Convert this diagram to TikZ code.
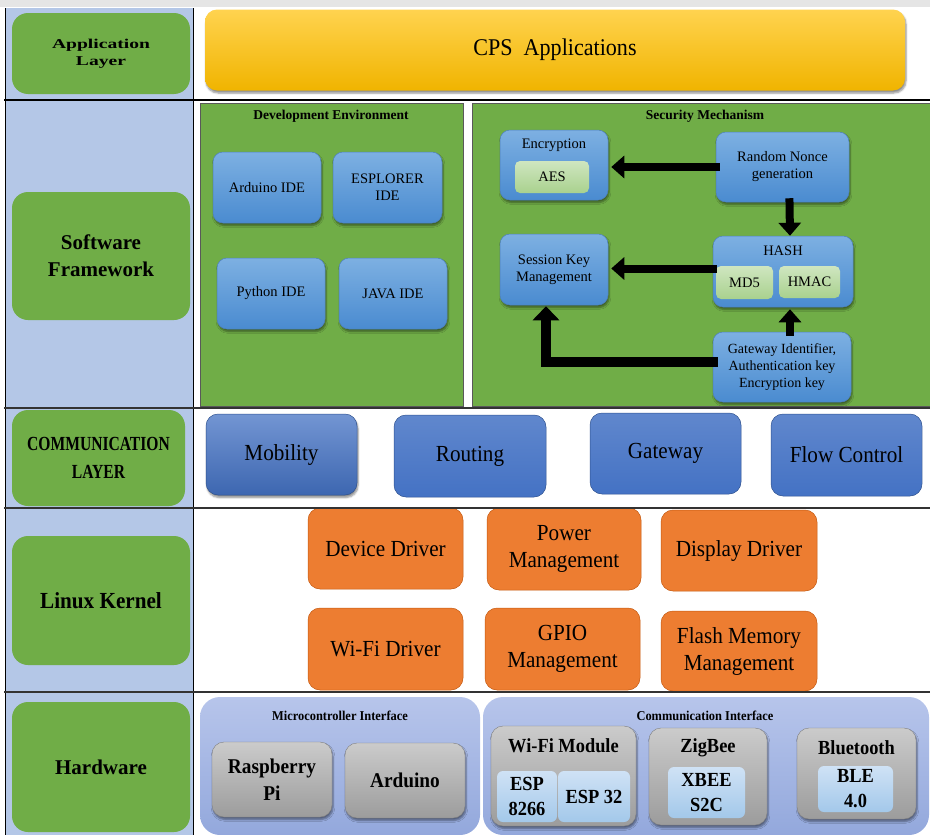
\documentclass[tikz,border=0pt]{standalone}
\usepackage{fontspec}
\setmainfont{Liberation Serif}
\newfontfamily\condfont[FakeStretch=0.92]{Liberation Serif}
\newfontfamily\narrowfont[FakeStretch=0.78]{Liberation Serif}
\newfontfamily\widefont[FakeStretch=1.45]{Liberation Serif}
\usetikzlibrary{arrows.meta, shadows.blur, positioning, calc}

\definecolor{colblue}{HTML}{B4C7E7}
\definecolor{lblgreen}{HTML}{70AD47}
\definecolor{panelgreen}{HTML}{70AD47}
\definecolor{idetop}{HTML}{7DB0E2}
\definecolor{idebot}{HTML}{4A8BD0}
\definecolor{ideedge}{HTML}{4F81BD}
\definecolor{chiptop}{HTML}{CFE6C0}
\definecolor{chipbot}{HTML}{A9D18E}
\definecolor{commblue}{HTML}{4472C4}
\definecolor{commedge}{HTML}{2F528F}
\definecolor{kerorange}{HTML}{ED7D31}
\definecolor{keredge}{HTML}{C55A11}
\definecolor{hwtop}{HTML}{B7C5EB}
\definecolor{hwbot}{HTML}{93A8DC}
\definecolor{greytop}{HTML}{CBCBCB}
\definecolor{greybot}{HTML}{9C9C9C}
\definecolor{bchiptop}{HTML}{CFE2F5}
\definecolor{bchipbot}{HTML}{A3C8EA}
\definecolor{cpstop}{HTML}{FFD34F}
\definecolor{cpsbot}{HTML}{F0B400}

\newcommand\fsz[2]{\fontsize{#1}{#2}\selectfont}

\tikzset{
  layer/.style={fill=lblgreen, rounded corners=16pt, inner sep=0pt, align=center},
  panel/.style={fill=panelgreen, draw=gray!70!black, line width=0.6pt, inner sep=0pt},
  paneltitle/.style={inner sep=0pt, font=\bfseries\fsz{13.5}{16}},
  softshadow/.style={blur shadow={shadow xshift=1pt, shadow yshift=-2.5pt, shadow blur steps=5, shadow opacity=45}},
  idebox/.style={rounded corners=10pt, top color=idetop, bottom color=idebot, draw=ideedge,
    line width=0.5pt, inner sep=1pt, align=center, softshadow, font=\fsz{14.5}{17}},
  chip/.style={rounded corners=5pt, top color=chiptop, bottom color=chipbot, inner sep=0pt, font=\fsz{14.5}{17}},
  commbox/.style={rounded corners=12pt, top color=commblue!85!white, bottom color=commblue, draw=commedge,
    line width=0.5pt, inner sep=0pt, font=\condfont\fsz{23}{27}},
  kerbox/.style={rounded corners=12pt, fill=kerorange, draw=keredge, line width=0.5pt, inner sep=0pt,
    align=center, font=\condfont\fsz{23}{27}},
  hwgroup/.style={rounded corners=20pt, top color=hwtop, bottom color=hwbot, inner sep=0pt},
  greybox/.style={rounded corners=12pt, top color=greytop, bottom color=greybot, draw=gray,
    line width=0.4pt, inner sep=0pt, align=center, softshadow, font=\condfont\bfseries\fsz{21}{27}},
  bchip/.style={rounded corners=6pt, top color=bchiptop, bottom color=bchipbot, inner sep=0pt,
    align=center, font=\condfont\bfseries\fsz{20}{25}},
  bigarrow/.style={line width=8pt, -{Triangle[width=22pt, length=13pt]}},
  rowline/.style={line width=1.2pt, gray!40!black},
}

\begin{document}
\begin{tikzpicture}[x=1pt, y=-1pt, line cap=rect]
\useasboundingbox (0,0) rectangle (930,835);

% Sfondo e griglia
\fill[gray!20] (0,0) rectangle (930,7);
\fill[colblue] (5,8) rectangle (193,835);
\draw[line width=0.8pt] (5,8) -- (5,835);
\draw[line width=0.8pt] (193,8) -- (193,835);

% Livelli (colonna sinistra)
\node[layer, minimum width=178pt, minimum height=81pt, font=\widefont\bfseries\fsz{13.5}{17}] (lapp) at (101,53.5) {Application\\Layer};
\node[layer, minimum width=178pt, minimum height=128pt, font=\bfseries\fsz{21}{27}] (lsw) at (101,256) {Software\\Framework};
\node[layer, minimum width=173pt, minimum height=96pt, font=\narrowfont\bfseries\fsz{20}{28}] (lcom) at (98.5,458) {COMMUNICATION\\LAYER};
\node[layer, minimum width=178pt, minimum height=129pt, font=\condfont\bfseries\fsz{23}{27}] (lker) at (101,600.5) {Linux Kernel};
\node[layer, minimum width=178pt, minimum height=130pt, font=\bfseries\fsz{21}{25}] (lhw) at (101,767) {Hardware};

% Applicazioni
\node[rounded corners=12pt, top color=cpstop, bottom color=cpsbot, inner sep=0pt, softshadow,
  minimum width=700pt, minimum height=81pt, font=\condfont\fsz{24}{28}] (cps) at (555,50) {CPS\ \ Applications};

% Ambiente di sviluppo
\node[panel, minimum width=263pt, minimum height=303pt] (devenv) at (331.5,254.5) {};
\node[paneltitle] (devt) at (331,116) {Development Environment};
\node[idebox, minimum width=108pt, minimum height=71pt] (ard) at (267,187.5) {Arduino IDE};
\node[idebox, minimum width=109pt, minimum height=71pt] (esp) at (387.5,187.5) {ESPLORER\\IDE};
\node[idebox, minimum width=108pt, minimum height=71pt] (py) at (271,293.5) {Python IDE};
\node[idebox, minimum width=108pt, minimum height=71pt] (java) at (393,293.5) {JAVA IDE};

% Meccanismo di sicurezza
\node[panel, minimum width=458pt, minimum height=303pt] (sec) at (701,254.5) {};
\node[paneltitle] (sect) at (705,116) {Security Mechanism};
\node[idebox, minimum width=108pt, minimum height=70pt] (enc) at (554,165) {};
\node[inner sep=0pt, font=\fsz{14.5}{17}] (enct) at (554,145) {Encryption};
\node[chip, minimum width=74pt, minimum height=32pt] (aes) at (552,177) {AES};
\node[idebox, minimum width=133pt, minimum height=70pt] (rng) at (782.5,167) {Random Nonce\\generation};
\node[idebox, minimum width=140pt, minimum height=71pt] (hash) at (783,271.5) {};
\node[inner sep=0pt, font=\fsz{14.5}{17}] (hasht) at (783,251) {HASH};
\node[chip, minimum width=57pt, minimum height=33pt] (md5) at (744.5,282.5) {MD5};
\node[chip, minimum width=61pt, minimum height=32pt] (hmac) at (809.5,282) {HMAC};
\node[idebox, minimum width=108pt, minimum height=71pt] (skm) at (554,269.5) {Session Key\\Management};
\node[idebox, minimum width=138pt, minimum height=70pt, font=\fsz{14}{17}] (gw) at (782,367) {Gateway Identifier,\\Authentication key\\Encryption key};

\draw[bigarrow, shorten >=3pt] (rng.west) -- (rng.west -| enc.east);
\draw[bigarrow] ($(rng.south)+(7,0)$) -- ($(hash.north)+(7,0)$);
\draw[bigarrow, shorten >=3pt] ($(hash.west)+(0,-3)$) -- ($(hash.west -| skm.east)+(0,-3)$);
\draw[bigarrow, shorten >=2pt] ($(gw.north)+(8,0)$) -- ($(hash.south)+(7,0)$);
\draw[line width=10pt, -{Triangle[width=26pt, length=14pt]}, shorten >=1pt]
  ($(gw.west)+(0,-5)$) -| ($(skm.south)+(-8,0)$);

% Livello di comunicazione
\node[commbox, softshadow, top color=commblue!75!white, bottom color=commblue!90!black,
  minimum width=151pt, minimum height=81pt] (mob) at (281.5,454.5) {Mobility};
\node[commbox, minimum width=152pt, minimum height=82pt] (rout) at (470,456) {Routing};
\node[commbox, minimum width=151pt, minimum height=81pt] (gate) at (665.5,453.5) {Gateway};
\node[commbox, minimum width=151pt, minimum height=82pt] (flow) at (846.5,455) {Flow Control};

% Kernel
\node[kerbox, minimum width=155pt, minimum height=81pt] (kdev) at (385.5,548.5) {Device Driver};
\node[kerbox, minimum width=154pt, minimum height=82pt] (kpow) at (564,549) {Power\\Management};
\node[kerbox, minimum width=156pt, minimum height=81pt] (kdisp) at (739,550.5) {Display Driver};
\node[kerbox, minimum width=155pt, minimum height=82pt] (kwifi) at (385.5,649) {Wi-Fi Driver};
\node[kerbox, minimum width=155pt, minimum height=82pt] (kgpio) at (562.5,649) {GPIO\\Management};
\node[kerbox, minimum width=156pt, minimum height=80pt] (kflash) at (739,651) {Flash Memory\\Management};

% Hardware
\node[hwgroup, minimum width=280pt, minimum height=138pt] (micro) at (340,766) {};
\node[inner sep=0pt, font=\condfont\bfseries\fsz{13.5}{16}] (microt) at (340,716) {Microcontroller Interface};
\node[greybox, minimum width=120pt, minimum height=75pt] (rpi) at (272,779.5) {Raspberry\\Pi};
\node[greybox, minimum width=120pt, minimum height=75pt] (ardu) at (405,780.5) {Arduino};

\node[hwgroup, minimum width=446pt, minimum height=138pt] (comif) at (706,766) {};
\node[inner sep=0pt, font=\condfont\bfseries\fsz{13.5}{16}] (comift) at (705,716) {Communication Interface};
\node[greybox, minimum width=145pt, minimum height=100pt] (wifi) at (563.5,776) {};
\node[inner sep=0pt, font=\condfont\bfseries\fsz{20}{24}] (wifit) at (563.5,746) {Wi-Fi Module};
\node[bchip, minimum width=60pt, minimum height=51pt] (e8266) at (527,796.5) {ESP\\8266};
\node[bchip, minimum width=72pt, minimum height=51pt] (e32) at (594,796.5) {ESP 32};
\node[greybox, minimum width=118pt, minimum height=97pt] (zig) at (708,776.5) {};
\node[inner sep=0pt, font=\condfont\bfseries\fsz{20}{24}] (zigt) at (708,748) {ZigBee};
\node[bchip, minimum width=77pt, minimum height=51pt] (xbee) at (706.5,792.5) {XBEE\\S2C};
\node[greybox, minimum width=119pt, minimum height=91pt] (bt) at (856.5,773.5) {};
\node[inner sep=0pt, font=\condfont\bfseries\fsz{20}{24}] (btt) at (856.5,748) {Bluetooth};
\node[bchip, minimum width=75pt, minimum height=46pt] (ble) at (855.5,789) {BLE\\4.0};

% Linee di separazione
\draw[line width=1.2pt] (5,100) -- (930,100);
\draw[rowline] (5,408) -- (930,408);
\draw[rowline] (5,508) -- (930,508);
\draw[rowline, line width=2pt] (5,692) -- (930,692);

\end{tikzpicture}
\end{document}
